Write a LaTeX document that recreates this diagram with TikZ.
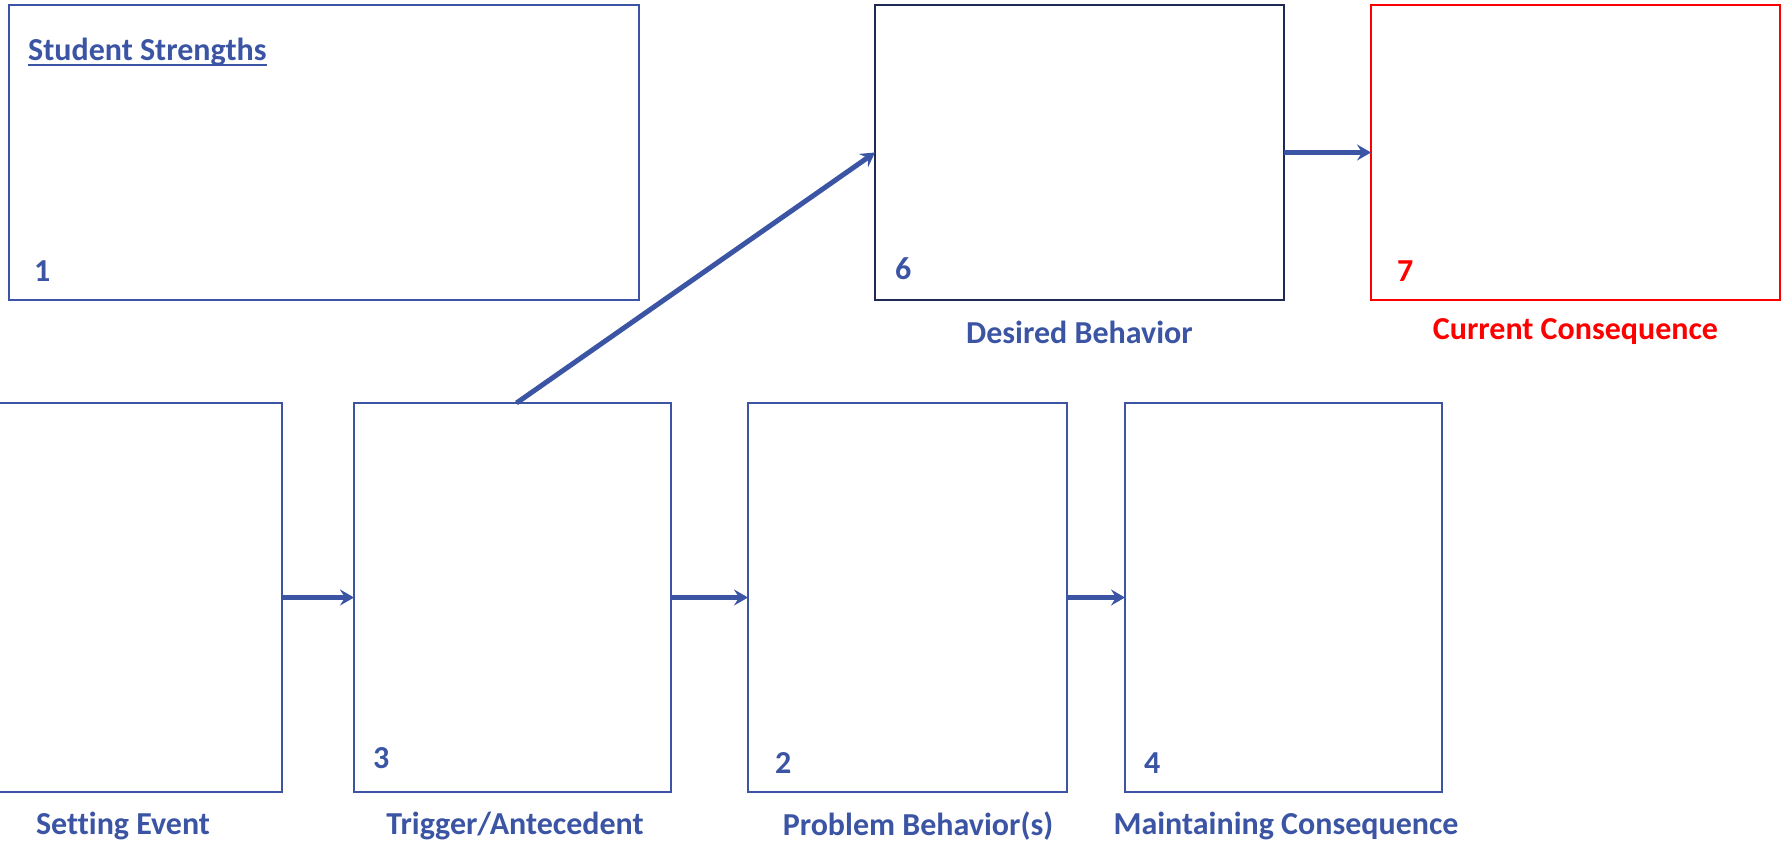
\documentclass[tikz,border=0pt]{standalone}
\usepackage{fontspec}
\setmainfont{Carlito}[Ligatures=NoCommon]
\usetikzlibrary{arrows.meta}
\definecolor{fbblue}{RGB}{59,85,164}
\definecolor{fbnavy}{RGB}{31,42,84}
\definecolor{fbred}{RGB}{255,0,0}
\begin{document}
\begin{tikzpicture}[x=1pt,y=-1pt,
  box/.style={draw=fbblue, line width=1.5pt, inner sep=0pt, outer sep=0pt, fill=white},
  lbl/.style={text=fbblue, font=\fontsize{32}{36}\selectfont\bfseries, inner sep=0pt},
  num/.style={lbl, anchor=west},
  flow/.style={draw=fbblue, line width=5pt, -{Stealth[length=14pt,width=16pt,inset=5pt]}}]
\useasboundingbox (0,0) rectangle (1785,843);
\clip (0,0) rectangle (1785,843);

% top row
\node[box, minimum width=630pt, minimum height=295pt] (strengths) at (324,152.5) {};
\node[box, draw=fbnavy, line width=2.5pt, minimum width=409pt, minimum height=295pt] (desired) at (1079.5,152.5) {};
\node[box, draw=fbred, minimum width=409pt, minimum height=295pt] (current) at (1575.5,152.5) {};

% bottom row
\node[box, minimum width=318pt, minimum height=389pt] (setting) at (123,597.5) {};
\node[box, minimum width=317pt, minimum height=389pt] (trigger) at (512.5,597.5) {};
\node[box, minimum width=319pt, minimum height=389pt] (problem) at (907.5,597.5) {};
\node[box, minimum width=317pt, minimum height=389pt] (maint) at (1283.5,597.5) {};

% heading with its underline
\node[lbl, anchor=west] (sstitle) at (28,52) {Student Strengths};
\draw[fbblue, line width=2pt] ([yshift=-4pt]sstitle.base west) -- ([yshift=-4pt]sstitle.base east);

% numbers inside the boxes
\node[num] (n1) at (34,271) {1};
\node[num] (n6) at (895,269) {6};
\node[num, text=fbred] (n7) at (1397,271) {7};
\node[num] (n3) at (373,758) {3};
\node[num] (n2) at (775,763) {2};
\node[num] (n4) at (1144,763) {4};

% captions under the boxes
\node[lbl] (ldesired) at (1079.5,332) {Desired Behavior};
\node[lbl, text=fbred] (lcurrent) at (1575.5,332) {Current Consequence};
\node[lbl] (lsetting) at (123,826) {Setting Event};
\node[lbl] (ltrigger) at (515,826) {Trigger/Antecedent};
\node[lbl] (lproblem) at (918,826) {Problem Behavior(s)};
\node[lbl] (lmaint) at (1286,826) {Maintaining Consequence};

% connectors
\draw[flow] (setting.east) -- (trigger.west);
\draw[flow] (trigger.east) -- (problem.west);
\draw[flow] (problem.east) -- (maint.west);
\draw[flow] ([xshift=4pt]trigger.north) -- (desired.west);
\draw[flow] (desired.east) -- (current.west);
\end{tikzpicture}
\end{document}
